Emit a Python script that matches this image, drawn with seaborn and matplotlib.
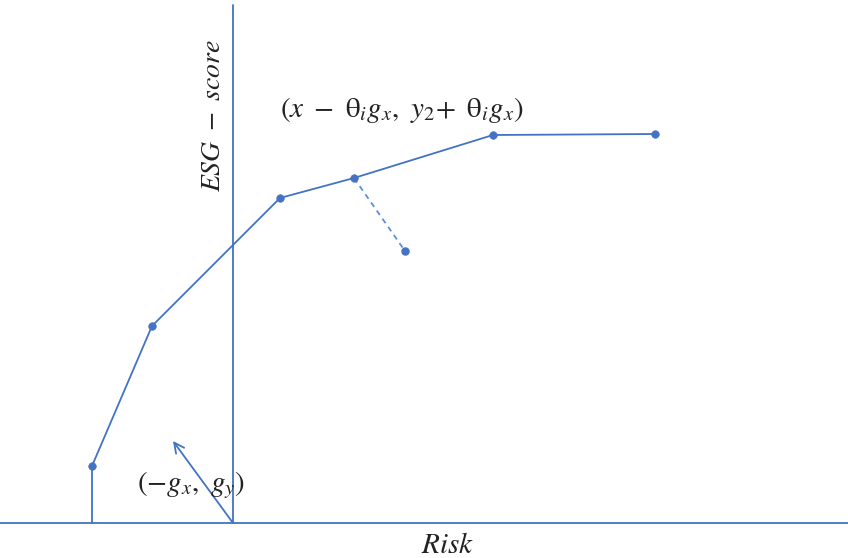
import numpy as np
import matplotlib
matplotlib.use("Agg")
import matplotlib.pyplot as plt
import pandas as pd
import seaborn as sns

# frontier points (risk, esg score), in diagram units
risk = [92, 152, 280, 354, 493, 655]
esg = [92, 232, 360, 380, 423, 424]
# projected point from the 4th frontier point
proj_risk = [354, 405]
proj_esg = [380, 307]
# gradient arrow (from origin)
grad_risk = [233, 173]
grad_esg = [35, 117]
# axes of the diagram
origin = (233, 35)

blue = "#4472C4"
light = "#5B8FD6"

sns.set_theme(style="white")
plt.rcParams["mathtext.fontset"] = "stix"

fig = plt.figure(figsize=(8.48, 5.58), dpi=100)
ax = fig.add_axes([0, 0, 1, 1])
ax.set_xlim(0, 848)
ax.set_ylim(0, 558)
ax.axis("off")

# axes lines
ax.plot([0, 848], [origin[1], origin[1]], color=blue, lw=1.3)
ax.plot([origin[0], origin[0]], [origin[1], 553], color=blue, lw=1.3)

frontier = pd.DataFrame({"risk": risk, "esg": esg})
sns.lineplot(data=frontier, x="risk", y="esg", sort=False, color=blue,
             lw=1.3, ax=ax, estimator=None)
sns.scatterplot(data=frontier, x="risk", y="esg", color=blue, s=30,
                edgecolor=blue, ax=ax, zorder=3)
# vertical drop from first point
ax.plot([risk[0], risk[0]], [origin[1], esg[0]], color=blue, lw=1.3)

# dashed projection
ax.plot(proj_risk, proj_esg, color=light, lw=1.3, ls=(0, (3, 2.5)))
ax.scatter(proj_risk[1:], proj_esg[1:], color=blue, s=26, zorder=3)

# gradient arrow
ax.annotate("", xy=(grad_risk[1], grad_esg[1]), xytext=(grad_risk[0], grad_esg[0]),
            arrowprops=dict(arrowstyle="->", color=blue, lw=1.3,
                            mutation_scale=18, shrinkA=0, shrinkB=0))

ax.text(402, 448,
        r"$(x\ -\ \mathrm{θ}_i g_x,\ y_2\!+\ \mathrm{θ}_i g_x)$",
        fontsize=21, ha="center", va="center", color="#222222")
ax.text(191, 73, r"$(-g_x,\ g_y)$", fontsize=21, ha="center",
        va="center", color="#222222")
ax.text(212, 442, r"$ESG\ -\ score$", fontsize=20, ha="center",
        va="center", rotation=90, color="#222222")
ax.text(448, 13, r"$Risk$", fontsize=21, ha="center", va="center",
        color="#222222")

ax.set_xlabel("")
ax.set_ylabel("")
fig.savefig("out.png", dpi=100)
